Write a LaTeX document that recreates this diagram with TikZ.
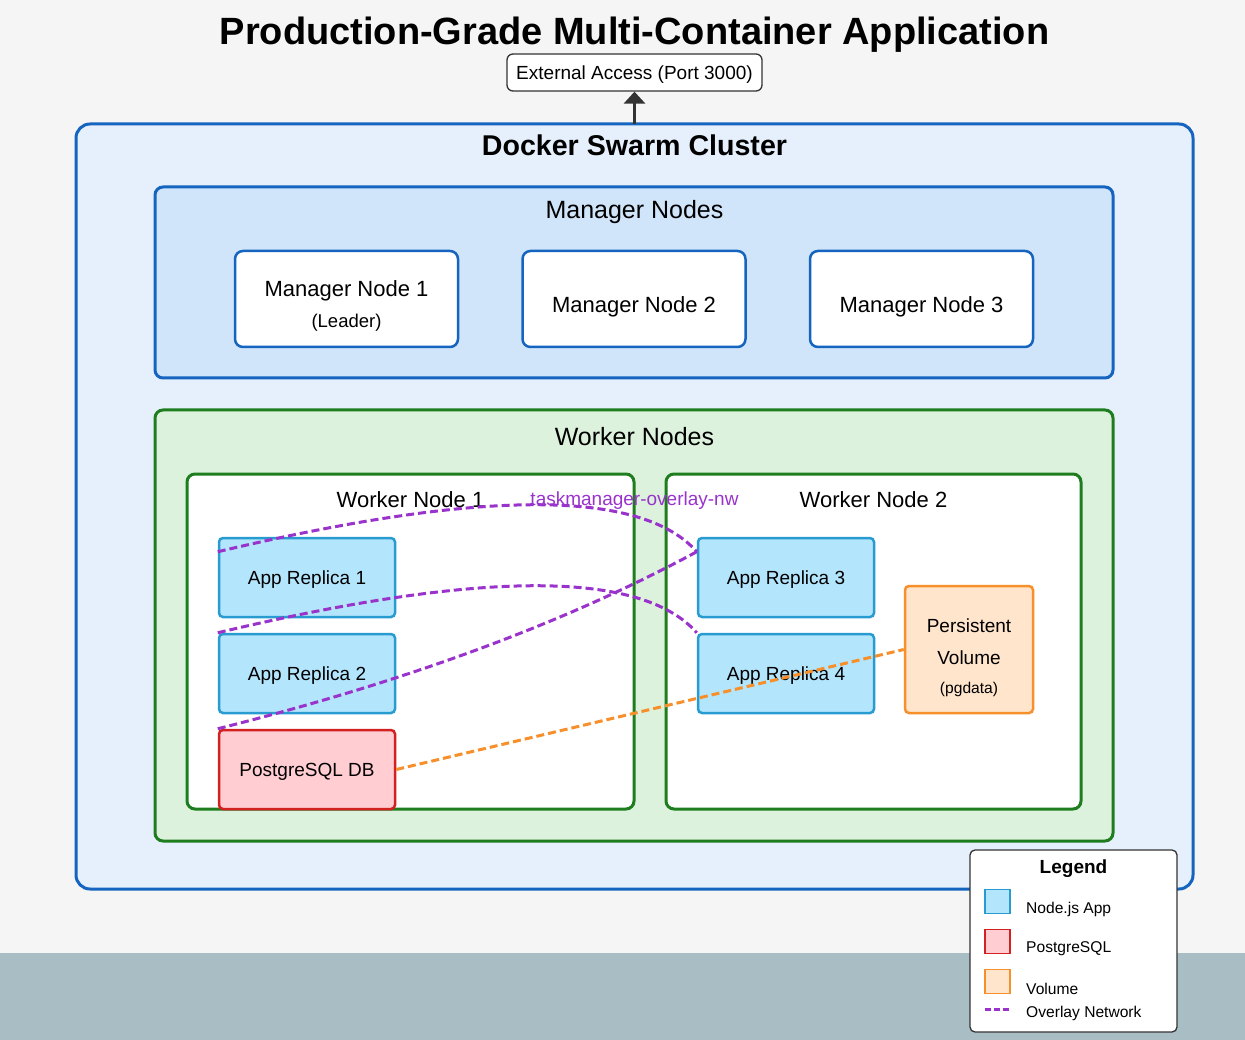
\documentclass[tikz,border=0pt]{standalone}
\usepackage{fontspec}
\setmainfont{Liberation Sans}
\usetikzlibrary{arrows.meta,calc}

\definecolor{bgcol}{RGB}{245,245,245}
\definecolor{bandcol}{RGB}{168,189,196}
\definecolor{swarmfill}{RGB}{230,240,252}
\definecolor{swarmline}{RGB}{21,101,192}
\definecolor{mgrfill}{RGB}{208,228,250}
\definecolor{wrkfill}{RGB}{220,242,220}
\definecolor{wrkline}{RGB}{30,125,30}
\definecolor{appfill}{RGB}{179,229,252}
\definecolor{appline}{RGB}{40,155,208}
\definecolor{dbfill}{RGB}{255,205,210}
\definecolor{dbline}{RGB}{211,32,32}
\definecolor{volfill}{RGB}{255,229,204}
\definecolor{volline}{RGB}{247,144,42}
\definecolor{netcol}{RGB}{153,51,204}
\definecolor{darkline}{RGB}{51,51,51}

\tikzset{
  boxtxt/.style={font=\fontsize{19}{23}\selectfont, text depth=0pt},
  txt/.style={inner sep=0pt, yshift=-2pt, font=\fontsize{19}{23}\selectfont},
  midtxt/.style={inner sep=0pt, yshift=-2pt, font=\fontsize{22}{26}\selectfont},
  bigtxt/.style={inner sep=0pt, yshift=-2.5pt, font=\fontsize{25}{30}\selectfont},
  smalltxt/.style={inner sep=0pt, yshift=-1.5pt, font=\fontsize{15.6}{19}\selectfont},
  mgrbox/.style={draw=swarmline, fill=white, line width=2.5pt, rounded corners=8pt,
    minimum width=223pt, minimum height=96pt},
  appbox/.style={draw=appline, fill=appfill, line width=2.5pt, rounded corners=4pt,
    minimum width=176pt, minimum height=79pt, boxtxt},
  dbbox/.style={appbox, draw=dbline, fill=dbfill},
  volbox/.style={draw=volline, fill=volfill, line width=2.5pt, rounded corners=4pt,
    minimum width=128pt, minimum height=127pt},
  overlay/.style={draw=netcol, line width=3pt, dash pattern=on 8pt off 4pt},
  volink/.style={draw=volline, line width=3pt, dash pattern=on 8pt off 4pt},
  swatch/.style={line width=1.2pt, minimum width=25pt, minimum height=24pt, inner sep=0pt},
}

\begin{document}
\begin{tikzpicture}[x=1pt,y=-1pt]
    \useasboundingbox (0,0) rectangle (1245,1040);
    \fill[bgcol] (0,0) rectangle (1245,1040);
    \fill[bandcol] (0,953) rectangle (1245,1040);

    \node[inner sep=0pt, yshift=-4pt, font=\bfseries\fontsize{38}{44}\selectfont] (title) at (634.5,31) {Production-Grade Multi-Container Application};

    % swarm cluster
    \draw[draw=swarmline, fill=swarmfill, line width=3pt, rounded corners=14pt] (76,124) rectangle (1193,889);
    \node[inner sep=0pt, font=\bfseries\fontsize{28.6}{34}\selectfont] (swarmlbl) at (634.5,145) {Docker Swarm Cluster};

    \node[draw=darkline, fill=white, line width=1.3pt, rounded corners=6pt,
      minimum width=255pt, minimum height=37pt, boxtxt] (ext) at (634.5,72.5) {External Access (Port 3000)};
    \coordinate (swarmtop) at (634.5,124);
    \draw[darkline, line width=3pt, -{Triangle[width=21pt,length=12pt]}] (swarmtop) -- (ext.south);

    % managers
    \draw[draw=swarmline, fill=mgrfill, line width=3pt, rounded corners=8pt] (155,187) rectangle (1113,378);
    \node[bigtxt] (mgrlbl) at (634.5,210) {Manager Nodes};

    \node[mgrbox] (mgr1) at (346.5,299) {};
    \node[mgrbox] (mgr2) at (634,299) {};
    \node[mgrbox] (mgr3) at (921.5,299) {};
    \node[midtxt] (mgr1txt) at (346.5,289) {Manager Node 1};
    \node[inner sep=0pt, yshift=-2pt, font=\fontsize{18.5}{22}\selectfont] (leadtxt) at (346.5,321) {(Leader)};
    \node[midtxt] (mgr2txt) at (634,305) {Manager Node 2};
    \node[midtxt] (mgr3txt) at (921.5,305) {Manager Node 3};

    % workers
    \draw[draw=wrkline, fill=wrkfill, line width=3pt, rounded corners=8pt] (155,410) rectangle (1113,841);
    \node[bigtxt] (wrklbl) at (634.5,434) {Worker Nodes};

    \draw[draw=wrkline, fill=white, line width=3pt, rounded corners=8pt] (187,474) rectangle (634,809);
    \draw[draw=wrkline, fill=white, line width=3pt, rounded corners=8pt] (666,474) rectangle (1081,809);
    \node[midtxt] (wrk1lbl) at (410.5,498) {Worker Node 1};
    \node[midtxt] (wrk2lbl) at (873.5,498) {Worker Node 2};

    \node[appbox] (app1) at (307,577.5) {App Replica 1};
    \node[appbox] (app2) at (307,673.5) {App Replica 2};
    \node[dbbox] (db) at (307,769.5) {PostgreSQL DB};
    \node[appbox] (app3) at (786,577.5) {App Replica 3};
    \node[appbox] (app4) at (786,673.5) {App Replica 4};

    \node[volbox] (vol) at (969,649.5) {};
    \node[txt] (voltxt1) at (969,624) {Persistent};
    \node[txt] (voltxt2) at (969,656) {Volume};
    \node[smalltxt] (voltxt3) at (969,688) {(pgdata)};

    % overlay network
    \draw[overlay] ($(app1.north west)+(0,15)$) .. controls +(264,-62.7) and +(-55.3,-62.7) .. ($(app3.north west)+(0,15)$);
    \draw[overlay] (app2.north west) .. controls +(264,-62.7) and +(-55.3,-62.7) .. (app4.north west);
    \draw[overlay] (db.north west) .. controls +(187.3,-47) and +(-132,71.3) .. ($(app3.north west)+(0,15)$);
    \draw[volink] (db.east) -- (vol.west);
    \node[txt, text=netcol] (netlbl) at (634.5,499) {taskmanager-overlay-nw};

    % legend
    \draw[draw=darkline, fill=white, line width=1.3pt, rounded corners=5pt] (970,850) rectangle (1177,1032);
    \node[inner sep=0pt, yshift=-2pt, font=\bfseries\fontsize{19}{23}\selectfont] (leglbl) at (1073.5,867) {Legend};
    \node[swatch, draw=appline, fill=appfill] (swapp) at (997.5,901.5) {};
    \node[swatch, draw=dbline, fill=dbfill] (swdb) at (997.5,941.5) {};
    \node[swatch, draw=volline, fill=volfill] (swvol) at (997.5,981.5) {};
    \coordinate (swnet1) at (985,1009.5);
    \coordinate (swnet2) at (1010,1009.5);
    \draw[draw=netcol, line width=2.5pt, dash pattern=on 6pt off 3pt] (swnet1) -- (swnet2);
    \node[smalltxt, anchor=west] (legapp) at (1026,907.5) {Node.js App};
    \node[smalltxt, anchor=west] (legdb) at (1026,947) {PostgreSQL};
    \node[smalltxt, anchor=west] (legvol) at (1026,987) {Volume};
    \node[smalltxt, anchor=west] (legnet) at (1026,1011.5) {Overlay Network};
\end{tikzpicture}
\end{document}
